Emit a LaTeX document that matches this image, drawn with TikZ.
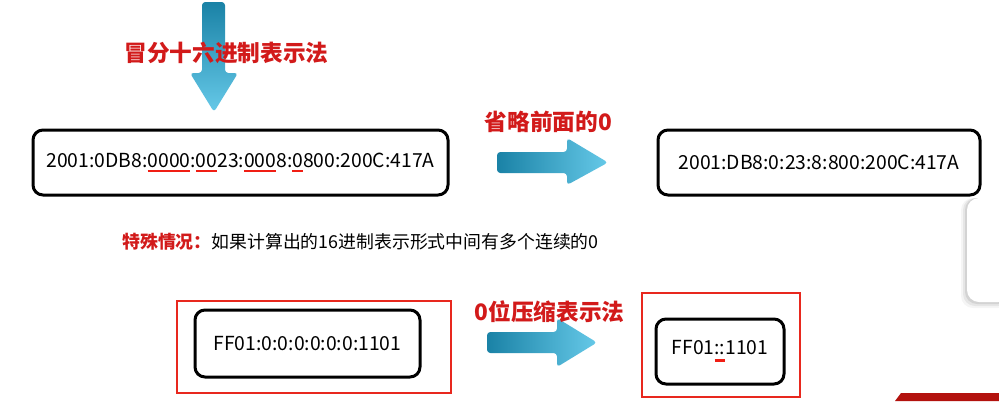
\documentclass[tikz,border=0pt]{standalone}
\usepackage{fontspec}
\setmainfont{Noto Sans CJK SC}
\definecolor{titlered}{HTML}{D21A1A}
\definecolor{framered}{HTML}{E8281E}
\definecolor{ulred}{HTML}{F01E14}
\definecolor{arrowdark}{HTML}{1A82A6}
\definecolor{arrowlight}{HTML}{66C9E8}
\definecolor{bandred}{HTML}{B3120E}
% red bar under a group of characters
\newcommand\zeroul[1]{\setbox0=\hbox{#1}\rlap{\textcolor{ulred}{\rule[-3.4pt]{\wd0}{1.6pt}}}\box0\relax}
\newcommand\colonul[1]{\setbox0=\hbox{#1}\rlap{\textcolor{ulred}{\rule[-5.6pt]{\wd0}{2.4pt}}}\box0\relax}
\tikzset{
  addrbox/.style={draw=black, line width=2.25pt, rounded corners=7.5pt, fill=white,
    inner sep=0pt, font=\fontsize{14.5pt}{18pt}\selectfont},
  redframe/.style={draw=framered, line width=1.5pt, inner sep=0pt},
  caption/.style={text=titlered, font=\fontsize{17pt}{20pt}\selectfont\bfseries, inner sep=0pt},
  note/.style={font=\fontsize{13.4pt}{16pt}\selectfont, inner sep=0pt},
}
\begin{document}
\begin{tikzpicture}[x=0.75pt,y=-0.75pt]
\useasboundingbox (0,0) rectangle (999,401);
\fill[white] (0,0) rectangle (999,401);

% downward arrow
\shade[top color=arrowdark, bottom color=arrowlight, rounded corners=2.5pt]
  (202,2) -- (225,2) -- (225,73) -- (238,73) -- (214,112) -- (190,73) -- (202,73) -- cycle;
\node[caption] (hex) at (226.5,53) {冒分十六进制表示法};

% full address
\node[addrbox, minimum width=311.25pt, minimum height=48.75pt] (full) at (240.5,162.5)
  {2001:0DB8:\zeroul{0000}:\zeroul{00}23:\zeroul{000}8:\zeroul{0}800:200C:417A};

% arrow: drop leading zeros
\shade[left color=arrowdark, right color=arrowlight, rounded corners=2.5pt]
  (497,152) -- (567,152) -- (567,138) -- (608,162.5) -- (567,185) -- (567,173) -- (497,173) -- cycle;
\node[caption] (lead) at (548.5,122) {省略前面的0};

% shortened address
\node[addrbox, minimum width=241.5pt, minimum height=48.75pt] (short) at (819,162.5)
  {2001:DB8:0:23:8:800:200C:417A};

% special case remark
\node[note, anchor=west] (special) at (122,242)
  {{\color{titlered}\bfseries 特殊情况：}如果计算出的16进制表示形式中间有多个连续的0};

% zero compression example
\node[redframe, minimum width=205.5pt, minimum height=69pt] (frameA) at (314,347) {};
\node[addrbox, minimum width=168.75pt, minimum height=50.25pt] (zeros) at (307.5,343.5)
  {FF01:0:0:0:0:0:0:1101};

\shade[left color=arrowdark, right color=arrowlight, rounded corners=2.5pt]
  (487,332) -- (557,332) -- (557,318) -- (597,342.5) -- (557,367) -- (557,353) -- (487,353) -- cycle;
\node[caption] (compress) at (549.5,312) {0位压缩表示法};

\node[redframe, minimum width=118.5pt, minimum height=78pt] (frameB) at (721,345) {};
\node[addrbox, minimum width=96pt, minimum height=48.75pt] (compact) at (720,351.5)
  {FF01\colonul{::}1101};

% side panel at the right edge
\foreach \s/\o in {6/0.04,4/0.06,2/0.08}
  \fill[black, opacity=\o, rounded corners=9pt] (967-\s,198) rectangle (1010,302+\s);
\fill[white, rounded corners=9pt] (967,198) rectangle (1010,302);

% corner band
\fill[bandred] (895,401) -- (901,393) -- (999,393) -- (999,401) -- cycle;
\end{tikzpicture}
\end{document}
